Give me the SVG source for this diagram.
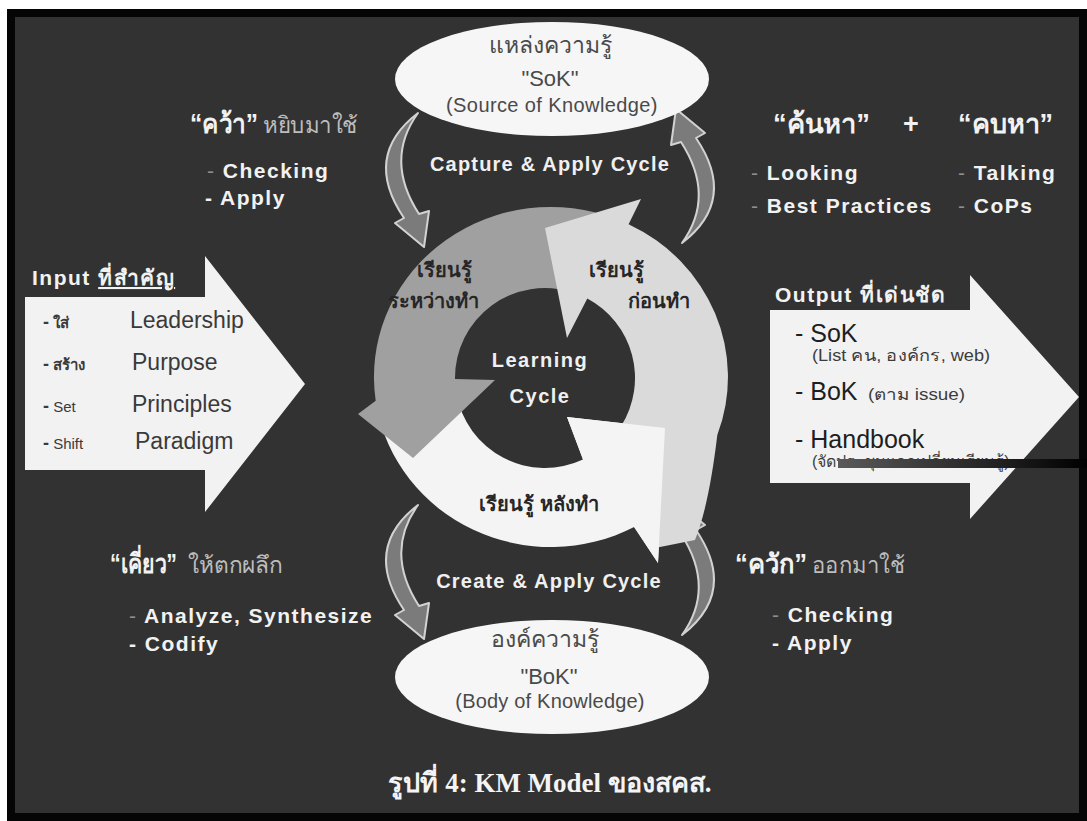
<svg xmlns="http://www.w3.org/2000/svg" width="1087" height="821" viewBox="0 0 1087 821">
  <defs>
    <style>
      .lbl{font-family:"Liberation Sans","Noto Sans",sans-serif;font-weight:bold;font-size:21px;letter-spacing:1.5px;fill:#f2f2f2}
      .dash{fill:#8f8f8f;font-weight:normal}
      .qh{font-family:"Liberation Sans","Noto Sans",sans-serif;font-weight:bold;font-size:27px;fill:#f2f2f2}
      .qs{font-family:"Liberation Sans","Noto Sans",sans-serif;font-size:23px;fill:#bdbdbd}
      .ell{fill:#f6f6f6}
      .ellt{font-family:"Liberation Sans","Noto Sans",sans-serif;fill:#4a4a4a;text-anchor:middle}
      .cyc{font-family:"Liberation Sans","Noto Sans",sans-serif;font-weight:bold;font-size:20px;letter-spacing:1.2px;fill:#f0f0f0;text-anchor:middle}
      .rth{font-family:"Liberation Sans","Noto Sans",sans-serif;font-weight:bold;font-size:20px;fill:#262626;text-anchor:middle}
      .big{fill:#f2f2f2}
      .inb{font-family:"Liberation Sans","Noto Sans",sans-serif;font-size:23px;fill:#3a3a3a}
      .ins{font-family:"Liberation Sans","Noto Sans",sans-serif;font-size:15px;fill:#3a3a3a}
      .outb{font-family:"Liberation Sans","Noto Sans",sans-serif;font-size:25px;fill:#1e1e1e}
      .outs{font-family:"Liberation Sans","Noto Sans",sans-serif;font-size:16px;fill:#3c3c3c}
      .crescent{fill:#7b7b7b;stroke:#d2d2d2;stroke-width:2;stroke-linejoin:round}
    </style>
    <!-- curved feedback arrow: bulges left, head pointing down -->
    <path id="crescent" class="crescent" d="M 418 113 Q 362 156 404 218 L 395 223 L 424 247 L 429 211 L 419 214 Q 384 160 418 113 Z"/>
    <linearGradient id="barGrad" x1="0" y1="0" x2="1" y2="0">
      <stop offset="0" stop-color="#5a5a5a"/>
      <stop offset="1" stop-color="#000"/>
    </linearGradient>
  </defs>

  <!-- page and frame -->
  <rect width="1087" height="821" fill="#ffffff"/>
  <rect x="7" y="9" width="1080" height="812" fill="#050505"/>
  <rect x="15" y="17" width="1064" height="796" fill="#323232"/>

  <!-- connectors: the four curved arrows between the knowledge stores and the cycle -->
  <g id="connectors">
    <use href="#crescent"/>
    <use href="#crescent" transform="rotate(180 550 178)"/>
    <use href="#crescent" transform="translate(0 392)"/>
    <use href="#crescent" transform="translate(0 392) rotate(180 550 178)"/>
  </g>

  <!-- learning cycle ring: after, during, before, then the head of "after" on top -->
  <g id="learning-cycle">
    <path id="arc-after" fill="#f4f4f4" d="M 376.7 406.5 A 177 170 0 0 0 634.1 527.1 L 658 563 L 665 428 L 567 417 L 583 459.6 A 90 90 0 0 1 456.4 393.6 Z"/>
    <path id="arc-during" fill="#a0a0a0" d="M 605.7 215.3 A 177 170 0 0 0 375.7 400.7 L 358 414 L 413 458 L 495 380 L 455 379 A 90 90 0 0 1 572.8 292.4 Z"/>
    <path id="arc-before" fill="#dadada" d="M 628.6 224.2 A 177 170 0 0 1 717.3 435.1 C 712 480 705 515 695 540 L 655 548 L 621.3 425.7 A 90 90 0 0 0 587.3 298.5 L 567 338 L 545 228 L 641 199 Z"/>
    <polygon id="head-after" fill="#f4f4f4" points="634.1,527.1 658,563 665,428 567,417 583,459.6 600,490"/>
    <text class="rth" x="444" y="277">เรียนรู้</text>
    <text class="rth" x="433" y="308">ระหว่างทำ</text>
    <text class="rth" x="616" y="277">เรียนรู้</text>
    <text class="rth" x="659" y="308">ก่อนทำ</text>
    <text class="rth" x="539" y="511">เรียนรู้  หลังทำ</text>
    <text class="cyc" x="540" y="367" style="letter-spacing:1.5px">Learning</text>
    <text class="cyc" x="540" y="403" style="letter-spacing:1.5px">Cycle</text>
  </g>

  <!-- source of knowledge -->
  <g id="sok">
    <ellipse class="ell" cx="552" cy="79" rx="157" ry="57"/>
    <text class="ellt" x="550" y="53" font-size="23">แหล่งความรู้</text>
    <text class="ellt" x="550" y="86" font-size="22">"SoK"</text>
    <text class="ellt" x="552" y="112" font-size="20" letter-spacing="0.4">(Source of Knowledge)</text>
  </g>
  <text class="cyc" x="550" y="171">Capture &amp; Apply Cycle</text>

  <!-- body of knowledge -->
  <g id="bok">
    <ellipse class="ell" cx="552" cy="677" rx="157" ry="57"/>
    <text class="ellt" x="545" y="647" font-size="23">องค์ความรู้</text>
    <text class="ellt" x="549" y="684" font-size="22">"BoK"</text>
    <text class="ellt" x="550" y="708" font-size="20" letter-spacing="0.2">(Body of Knowledge)</text>
  </g>
  <text class="cyc" x="549" y="588">Create &amp; Apply Cycle</text>

  <!-- grab and use -->
  <g id="grab">
    <text class="qh" x="190" y="133" textLength="68" lengthAdjust="spacingAndGlyphs">“คว้า”</text>
    <text class="qs" x="263" y="133" textLength="95" lengthAdjust="spacingAndGlyphs">หยิบมาใช้</text>
    <text class="lbl" x="207" y="178"><tspan class="dash">-</tspan> Checking</text>
    <text class="lbl" x="205" y="205">- Apply</text>
  </g>

  <!-- search and associate -->
  <g id="search">
    <text class="qh" x="773" y="133" textLength="97" lengthAdjust="spacingAndGlyphs">“ค้นหา”</text>
    <text class="qh" x="903" y="133">+</text>
    <text class="qh" x="958" y="133" textLength="95" lengthAdjust="spacingAndGlyphs">“คบหา”</text>
    <text class="lbl" x="751" y="180"><tspan class="dash">-</tspan> Looking</text>
    <text class="lbl" x="751" y="213"><tspan class="dash">-</tspan> Best Practices</text>
    <text class="lbl" x="958" y="180"><tspan class="dash">-</tspan> Talking</text>
    <text class="lbl" x="958" y="213"><tspan class="dash">-</tspan> CoPs</text>
  </g>

  <!-- chew until crystallised -->
  <g id="chew">
    <text class="qh" x="110" y="573" textLength="67" lengthAdjust="spacingAndGlyphs">“เคี่ยว”</text>
    <text class="qs" x="188" y="573" textLength="95" lengthAdjust="spacingAndGlyphs">ให้ตกผลึก</text>
    <text class="lbl" x="129" y="623"><tspan class="dash">-</tspan> Analyze, Synthesize</text>
    <text class="lbl" x="129" y="651">- Codify</text>
  </g>

  <!-- scoop out and use -->
  <g id="scoop">
    <text class="qh" x="735" y="573" textLength="72" lengthAdjust="spacingAndGlyphs">“ควัก”</text>
    <text class="qs" x="812" y="573" textLength="93" lengthAdjust="spacingAndGlyphs">ออกมาใช้</text>
    <text class="lbl" x="772" y="622"><tspan class="dash">-</tspan> Checking</text>
    <text class="lbl" x="772" y="650">- Apply</text>
  </g>

  <!-- input arrow -->
  <g id="input">
    <polygon class="big" points="25,297 205,297 205,256 305,384 205,512 205,470 25,470"/>
    <text class="lbl" x="32" y="285" font-size="19" letter-spacing="1">Input <tspan text-decoration="underline">ที่สำคัญ</tspan></text>
    <text class="ins" x="43" y="328"><tspan font-weight="bold" font-size="18">-</tspan> <tspan font-weight="bold">ใส่</tspan></text>
    <text class="ins" x="43" y="370"><tspan font-weight="bold" font-size="18">-</tspan> <tspan font-weight="bold">สร้าง</tspan></text>
    <text class="ins" x="43" y="412"><tspan font-weight="bold" font-size="18">-</tspan>  Set</text>
    <text class="ins" x="43" y="449"><tspan font-weight="bold" font-size="18">-</tspan>  Shift</text>
    <text class="inb" x="130" y="328">Leadership</text>
    <text class="inb" x="132" y="370">Purpose</text>
    <text class="inb" x="132" y="412">Principles</text>
    <text class="inb" x="135" y="449">Paradigm</text>
  </g>

  <!-- output arrow -->
  <g id="output">
    <polygon class="big" fill="#f6f6f6" points="770,310 970,310 970,275 1079,397 970,519 970,483 770,483"/>
    <text class="lbl" x="775" y="302" font-size="20" letter-spacing="2">Output <tspan>ที่เด่นชัด</tspan></text>
    <text class="outb" x="795" y="342">- SoK</text>
    <text class="outs" x="812" y="361" textLength="178" lengthAdjust="spacingAndGlyphs">(List คน, องค์กร, web)</text>
    <text class="outb" x="795" y="400">- BoK</text>
    <text class="outs" x="868" y="400" textLength="97" lengthAdjust="spacingAndGlyphs">(ตาม issue)</text>
    <text class="outb" x="795" y="448">- Handbook</text>
    <text class="outs" x="812" y="467" font-size="14">(จัดประชุมแลกเปลี่ยนเรียนรู้)</text>
    <rect x="838" y="459" width="249" height="9" fill="url(#barGrad)"/>
  </g>

  <!-- caption -->
  <text x="550" y="792" text-anchor="middle" font-family="'Liberation Serif','Noto Serif',serif" font-weight="bold" font-size="27" fill="#f4f4f4">รูปที่ 4: KM Model ของสคส.</text>
</svg>
